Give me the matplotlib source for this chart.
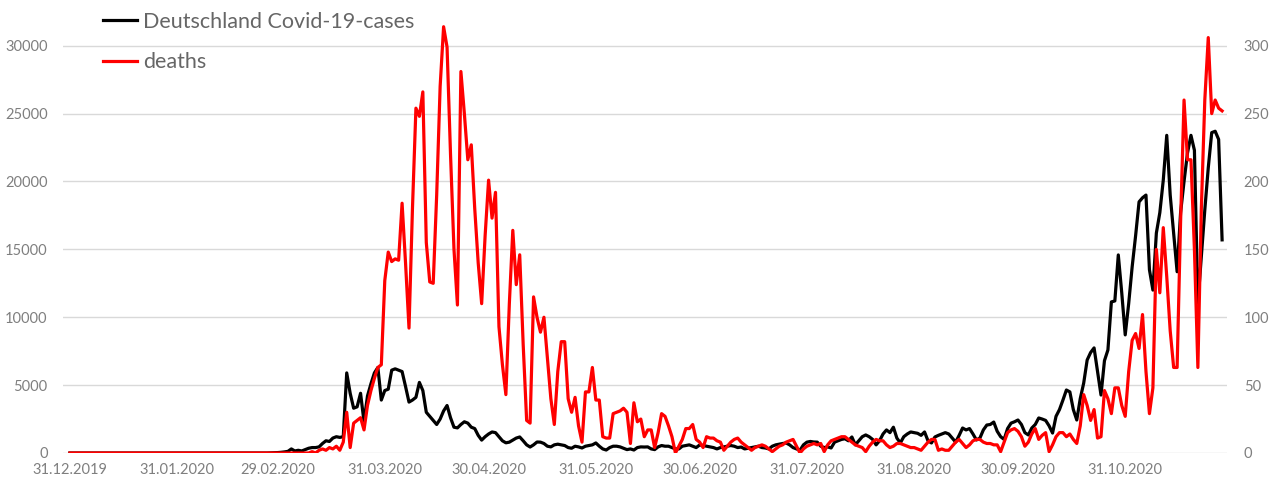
import matplotlib
matplotlib.use('Agg')
import matplotlib.pyplot as plt
import pandas as pd

plt.rcParams['font.family'] = ['Lato', 'DejaVu Sans']

# Tageswerte ab 31.12.2019
cases = [0] * 56 + [
    0, 0, 10, 20, 30, 50, 80, 120,
    300, 150, 200, 150, 250, 350, 400, 400, 450, 700, 900, 850, 1100, 1200, 1150, 1200,
    5900, 4400, 3300, 3400, 4400, 2300, 4200, 5100, 5900, 6300, 3900, 4600, 4700, 6100, 6200, 6100, 6000, 4900, 3750, 3900,
    4100, 5200, 4600, 3000, 2700, 2400, 2100, 2500, 3100, 3500, 2600, 1900, 1850, 2100, 2300, 2200, 1900, 1800, 1300, 950,
    1200, 1400, 1550, 1500, 1200, 900, 750, 800, 950, 1100, 1180, 900, 600, 440, 600, 810, 800, 700, 500, 450,
    600, 650, 600, 550, 400, 350, 500, 450, 370, 500, 550, 600, 740, 500, 300, 220, 400, 500, 500, 450,
    350, 250, 300, 220, 400, 450, 440, 450, 300, 250, 450, 550, 500, 500, 400, 300, 300, 500, 550, 600,
    500, 400, 590, 550, 500, 450, 400, 300, 400, 450, 500, 550, 500, 400, 440, 300, 350, 400, 450, 500,
    400, 370, 300, 500, 600, 650, 700, 740, 600, 400, 300, 200, 600, 800, 850, 810, 800, 500, 400, 450,
    370, 800, 900, 1000, 1050, 900, 1180, 600, 900, 1200, 1330, 1200, 1000, 600, 900, 1400, 1700, 1500, 1900, 1100,
    740, 1200, 1400, 1550, 1500, 1450, 1300, 1550, 900, 740, 1180, 1300, 1400, 1500, 1400, 1100, 800, 1300, 1840, 1700,
    1800, 1400, 960, 1100, 1700, 2060, 2100, 2280, 1600, 1200, 1000, 1800, 2200, 2300, 2430, 2100, 1500, 1330, 1840, 2100,
    2580, 2500, 2400, 2000, 1470, 2700, 3200, 3900, 4640, 4500, 3200, 2430, 4000, 5150, 6850, 7400, 7740, 6000, 4270, 6800,
    7590, 11130, 11200, 14590, 11790, 8700, 11000, 13700, 16000, 18500, 18800, 19000, 13500, 12000, 16200, 17700, 20100, 23400, 19000, 16200,
    13350, 17700, 20000, 22100, 23400, 22300, 11050, 14500, 17900, 21000, 23600, 23700, 23100, 15700,
]

deaths = [0] * 70 + [
    1, 0, 2, 3, 2, 4, 3, 5, 2, 8,
    30, 4, 22, 24, 26, 17, 35, 46, 55, 63, 65, 127, 148, 141, 143, 142, 184, 140, 92, 180,
    254, 248, 266, 155, 126, 125, 190, 270, 314, 299, 220, 150, 109, 281, 250, 216, 227, 180, 140, 110,
    160, 201, 173, 192, 93, 65, 43, 110, 164, 124, 146, 80, 24, 22, 115, 100, 89, 100, 70, 40,
    21, 60, 82, 82, 40, 30, 41, 20, 8, 45, 45, 63, 39, 39, 12, 11, 11, 29, 30, 31,
    33, 30, 7, 37, 23, 25, 12, 17, 17, 4, 15, 29, 27, 20, 12, 0, 5, 10, 18, 18,
    21, 10, 8, 4, 12, 11, 11, 9, 8, 2, 5, 8, 10, 11, 8, 6, 4, 2, 4, 5,
    6, 5, 3, 1, 3, 5, 6, 8, 9, 10, 5, 0, 3, 5, 6, 7, 6, 7, 1, 6,
    9, 10, 11, 12, 12, 10, 8, 6, 5, 4, 1, 5, 8, 10, 9, 9, 6, 4, 5, 7,
    7, 6, 5, 4, 4, 3, 2, 5, 8, 10, 10, 2, 3, 2, 2, 5, 8, 10, 7, 4,
    6, 9, 10, 10, 8, 7, 7, 6, 6, 1, 8, 15, 17, 18, 16, 12, 5, 8, 14, 18,
    10, 13, 15, 1, 6, 12, 15, 15, 12, 14, 10, 7, 20, 43, 35, 24, 32, 11, 12, 46,
    40, 29, 48, 48, 35, 27, 60, 83, 88, 77, 102, 60, 29, 48, 150, 118, 166, 130, 90, 63,
    63, 170, 260, 216, 216, 150, 63, 180, 260, 306, 250, 260, 254, 252,
]

dates = pd.date_range('2019-12-31', periods=len(cases), freq='D')

tick_labels = ['31.12.2019', '31.01.2020', '29.02.2020', '31.03.2020', '30.04.2020', '31.05.2020',
               '30.06.2020', '31.07.2020', '31.08.2020', '30.09.2020', '31.10.2020']
tick_dates = pd.to_datetime(tick_labels, format='%d.%m.%Y')

fig = plt.figure(figsize=(12.77, 4.83), dpi=100)
ax = fig.add_axes([63 / 1277, 30 / 483, 1164 / 1277, 448 / 483])
ax2 = ax.twinx()

l1, = ax.plot(dates, cases, color='black', lw=2.3, label='Deutschland Covid-19-cases')
l2, = ax2.plot(dates, deaths, color='#ff0000', lw=2.3, label='deaths')

ax.set_xlim(pd.Timestamp('2019-12-29'), pd.Timestamp('2020-11-29 10:00'))
ax.set_ylim(0, 33000)
ax2.set_ylim(0, 330)
ax.set_yticks(range(0, 30001, 5000))
ax2.set_yticks(range(0, 301, 50))
ax.set_xticks(tick_dates)
ax.set_xticklabels(tick_labels)

ax.yaxis.grid(True, color='#d9d9d9', lw=1)
ax.set_axisbelow(True)

for a in (ax, ax2):
    for s in a.spines.values():
        s.set_visible(False)
ax.tick_params(axis='x', length=0, colors='#7f7f7f', labelsize=10.5, pad=7)
ax.tick_params(axis='y', length=0, colors='#7f7f7f', labelsize=10.5, pad=11)
ax2.tick_params(axis='y', length=0, colors='#7f7f7f', labelsize=10.5, pad=12)

ax2.legend(handles=[l1, l2], loc='upper left', bbox_to_anchor=(103 / 1277, 1 - 12 / 483),
           bbox_transform=fig.transFigure, frameon=False, fontsize=15.5, labelcolor='#666666',
           borderpad=0, borderaxespad=0, handlelength=1.6, handletextpad=0.25, labelspacing=0.95)

plt.savefig('out.png', dpi=100)
